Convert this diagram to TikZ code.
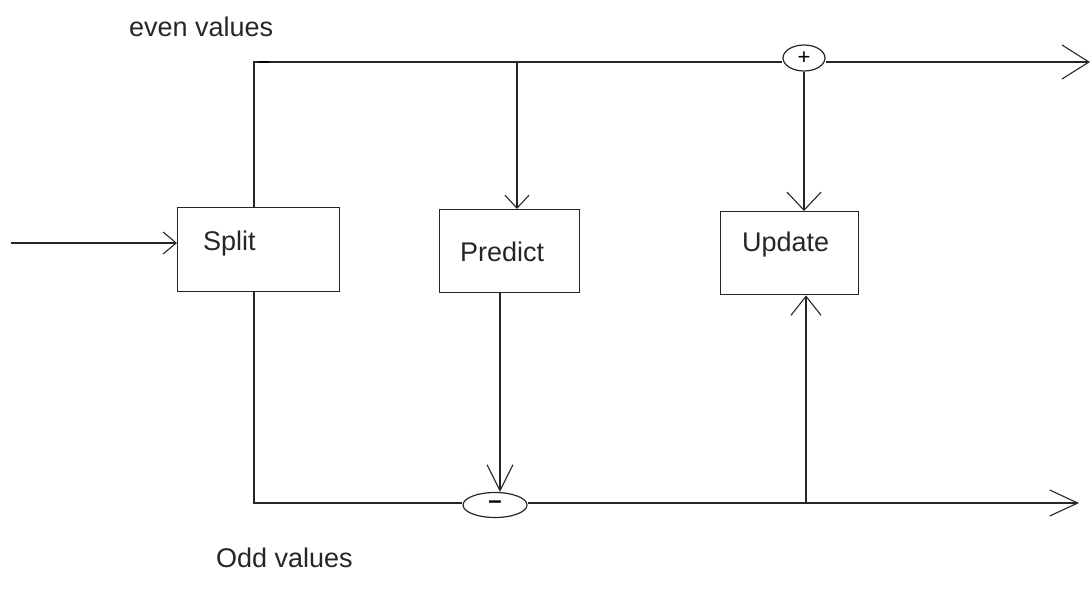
\documentclass[tikz,border=0pt]{standalone}
\usepackage{fontspec}
\setmainfont{Liberation Sans}
\usetikzlibrary{arrows.meta,shapes.geometric}
\begin{document}
\begin{tikzpicture}[x=1pt,y=-1pt,
  wire/.style={line width=1.4pt, draw=black!85},
  blockbox/.style={draw=black!85, line width=1.4pt, rectangle, inner sep=0pt, anchor=north west},
  lbl/.style={font=\fontsize{27}{30}\selectfont, text=black!85, inner sep=0pt, anchor=west},
  junction/.style={draw=black!85, line width=1.2pt, ellipse, inner sep=0pt},
  barb/.style n args={2}{-{Straight Barb[length=#1pt,width=#2pt,line width=1.1pt]}},
]
\useasboundingbox (0,0) rectangle (1091,592);

% blocks of the lifting scheme
\node[blockbox, minimum width=162pt, minimum height=84pt] (split) at (177,207) {};
\node[blockbox, minimum width=140pt, minimum height=83pt] (predict) at (439,209) {};
\node[blockbox, minimum width=138pt, minimum height=83pt] (update) at (720,211) {};
\node[lbl] (splittxt) at (203,244) {Split};
\node[lbl] (predicttxt) at (460,252) {Predict};
\node[lbl] (updatetxt) at (742,245) {Update};

% adder and subtractor
\node[junction, minimum width=42pt, minimum height=26pt, font=\fontsize{22}{22}\selectfont] (plus) at (804,58) {+};
\node[junction, minimum width=64pt, minimum height=25pt, font=\bfseries\fontsize{24}{24}\selectfont] (minus) at (495,505) {--};

% corner and end points of the signal paths
\coordinate (in) at (11,243);
\coordinate (evencorner) at (254,62);
\coordinate (oddcorner) at (254,503);
\coordinate (evenout) at (1090,62);
\coordinate (oddout) at (1079,503);
\coordinate (predtap) at (517,62);
\coordinate (predout) at (500,292);
\coordinate (updtap) at (806,503);

% input
\draw[wire, barb={13}{22}] (in) -- (in -| split.west);
% even branch
\draw[wire] (split.north -| evencorner) -- (evencorner) -- (plus.west |- evencorner);
\draw[line width=2.6pt, draw=black] ([xshift=5pt]evencorner) -- ([xshift=15pt]evencorner);
\draw[wire, barb={27}{34}] (plus.east |- evencorner) -- (evenout);
\draw[wire, barb={13}{24}] (predtap) -- (predtap |- predict.north);
\draw[wire, barb={18}{34}] (plus.south) -- (plus.south |- update.north);
% odd branch
\draw[wire] (split.south -| oddcorner) -- (oddcorner) -- (minus.west |- oddcorner);
\draw[wire, barb={28}{26}] (minus.east |- oddcorner) -- (oddout);
\draw[wire, barb={26}{26}] (predout) -- (predout |- minus.north);
\draw[wire, barb={19}{30}] (updtap) -- (updtap |- update.south);

% branch labels
\node[lbl] (evenlbl) at (129,27) {even values};
\node[lbl] (oddlbl) at (216,558) {Odd values};
\end{tikzpicture}
\end{document}
